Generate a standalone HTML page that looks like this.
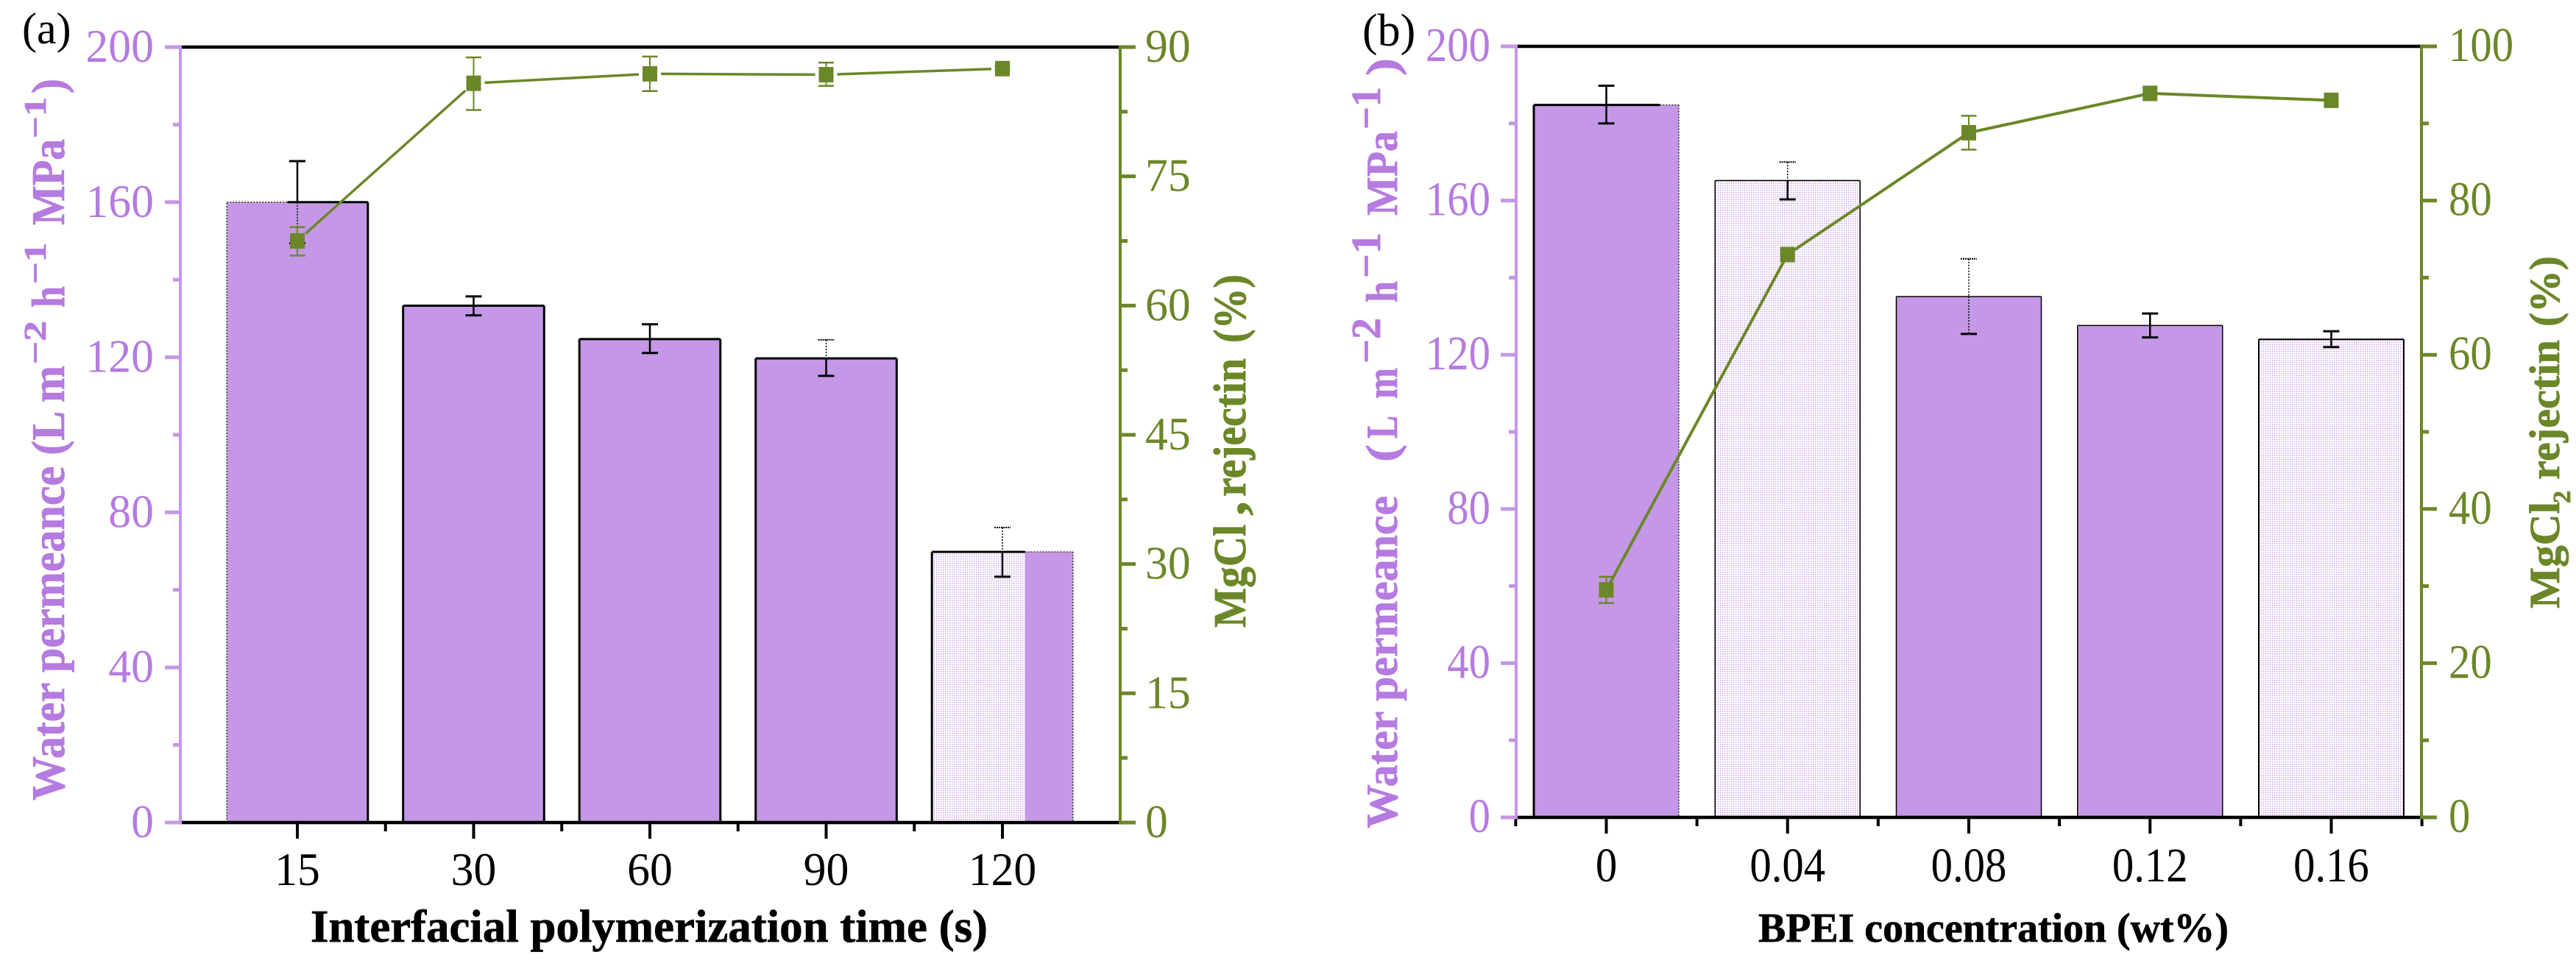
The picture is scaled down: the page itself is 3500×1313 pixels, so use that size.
<!DOCTYPE html>
<html lang="en">
<head>
<meta charset="utf-8">
<title>Water permeance and MgCl2 rejection charts</title>
<style>
html,body{margin:0;padding:0;background:#fff;}
svg{display:block;}
text{font-family:"Liberation Serif","Noto Serif CJK SC",serif;}
</style>
</head>
<body>
<svg id="figure" xmlns="http://www.w3.org/2000/svg" width="3500" height="1313" viewBox="0 0 3500 1313">
  <defs>
    <pattern id="dots" patternUnits="userSpaceOnUse" width="3" height="3">
      <rect x="0" y="0" width="3" height="3" fill="#fff"/>
      <rect x="0" y="0" width="1.4" height="1.4" fill="#c498e6"/>
    </pattern>
  </defs>
  <rect x="0" y="0" width="3500" height="1313" fill="#fff"/>
  <g id="panelA"></g>
  <g id="panelB"></g>

  <text x="30" y="59" font-size="60" fill="#000">(a)</text>
  <text x="1851" y="62" font-size="62" fill="#000">(b)</text>

  <text x="422" y="1280" font-size="62" font-weight="bold" fill="#000" stroke="#000" stroke-width="0.7" textLength="920" lengthAdjust="spacingAndGlyphs">Interfacial polymerization time (s)</text>
  <text x="2389" y="1280" font-size="56" font-weight="bold" fill="#000" stroke="#000" stroke-width="0.7" textLength="639" lengthAdjust="spacingAndGlyphs">BPEI concentration (wt%)</text>

  <g font-weight="bold" fill="#b57be0" stroke="#b57be0" stroke-width="0.8">
    <text transform="translate(87,1088) rotate(-90)" font-size="64" textLength="591" lengthAdjust="spacingAndGlyphs">Water permeance (L m</text>
    <text transform="translate(62,495) rotate(-90)" font-size="42" textLength="59" lengthAdjust="spacingAndGlyphs">−2</text>
    <text transform="translate(87,418) rotate(-90)" font-size="64" textLength="29" lengthAdjust="spacingAndGlyphs">h</text>
    <text transform="translate(62,386) rotate(-90)" font-size="42" textLength="56" lengthAdjust="spacingAndGlyphs">−1</text>
    <text transform="translate(87,306) rotate(-90)" font-size="64" textLength="117" lengthAdjust="spacingAndGlyphs">MPa</text>
    <text transform="translate(62,188) rotate(-90)" font-size="42" textLength="56" lengthAdjust="spacingAndGlyphs">−1</text>
    <text transform="translate(87,127) rotate(-90)" font-size="64" textLength="20" lengthAdjust="spacingAndGlyphs">)</text>
  </g>

  <g font-weight="bold" fill="#b57be0" stroke="#b57be0" stroke-width="0.8">
    <text transform="translate(1898,1126) rotate(-90)" font-size="60" textLength="452" lengthAdjust="spacingAndGlyphs">Water permeance</text>
    <text transform="translate(1898,628) rotate(-90)" font-size="60" textLength="24" lengthAdjust="spacingAndGlyphs">(</text>
    <text transform="translate(1898,596) rotate(-90)" font-size="60" textLength="31" lengthAdjust="spacingAndGlyphs">L</text>
    <text transform="translate(1898,542) rotate(-90)" font-size="60" textLength="42" lengthAdjust="spacingAndGlyphs">m</text>
    <text transform="translate(1875,494) rotate(-90)" font-size="56" textLength="62" lengthAdjust="spacingAndGlyphs">−2</text>
    <text transform="translate(1898,411) rotate(-90)" font-size="60" textLength="29" lengthAdjust="spacingAndGlyphs">h</text>
    <text transform="translate(1875,378) rotate(-90)" font-size="56" textLength="62" lengthAdjust="spacingAndGlyphs">−1</text>
    <text transform="translate(1898,293) rotate(-90)" font-size="60" textLength="115" lengthAdjust="spacingAndGlyphs">MPa</text>
    <text transform="translate(1875,176) rotate(-90)" font-size="56" textLength="58" lengthAdjust="spacingAndGlyphs">−1</text>
    <text transform="translate(1898,103) rotate(-90)" font-size="60" textLength="24" lengthAdjust="spacingAndGlyphs">)</text>
  </g>

  <g font-weight="bold" fill="#6b8728" stroke="#6b8728" stroke-width="0.8">
    <text transform="translate(1692,853) rotate(-90)" font-size="62" textLength="140" lengthAdjust="spacingAndGlyphs">MgCl</text>
    <text transform="translate(1692,701) rotate(-90)" font-size="70" textLength="20" lengthAdjust="spacingAndGlyphs">,</text>
    <text transform="translate(1692,675) rotate(-90)" font-size="62" textLength="188" lengthAdjust="spacingAndGlyphs">rejectin</text>
    <text transform="translate(1692,466) rotate(-90)" font-size="62" textLength="93" lengthAdjust="spacingAndGlyphs">(%)</text>
  </g>

  <g font-weight="bold" fill="#6b8728" stroke="#6b8728" stroke-width="0.8">
    <text transform="translate(3477,827) rotate(-90)" font-size="58" textLength="145" lengthAdjust="spacingAndGlyphs">MgCl</text>
    <text transform="translate(3492,684) rotate(-90)" font-size="34" textLength="17" lengthAdjust="spacingAndGlyphs">2</text>
    <text transform="translate(3477,652) rotate(-90)" font-size="58" textLength="190" lengthAdjust="spacingAndGlyphs">rejectin</text>
    <text transform="translate(3477,444) rotate(-90)" font-size="58" textLength="96" lengthAdjust="spacingAndGlyphs">(%)</text>
  </g>
</svg>
<script>
// ---- Panel (a) data ----
var categoriesA = ["15", "30", "60", "90", "120"];
var permeanceA = [160, 133.3, 124.7, 119.7, 69.8];
var permeanceHighA = [170.6, 135.7, 128.5, 124.5, 76.1];
var permeanceLowA = [149.4, 130.8, 121.1, 115.2, 63.4];
var rejectionA = [67.5, 85.8, 86.9, 86.8, 87.5];
var rejectionHighA = [69.1, 88.8, 88.9, 88.2, 87.7];
var rejectionLowA = [65.8, 82.7, 84.9, 85.5, 87.3];
var leftTicksA = ["0", "40", "80", "120", "160", "200"];
var rightTicksA = ["0", "15", "30", "45", "60", "75", "90"];

// ---- Panel (b) data ----
var categoriesB = ["0", "0.04", "0.08", "0.12", "0.16"];
var permeanceB = [184.8, 165.2, 135.1, 127.6, 124];
var permeanceHighB = [189.8, 170, 144.9, 130.7, 126.1];
var permeanceLowB = [180, 160.3, 125.4, 124.5, 122];
var rejectionB = [29.5, 73, 88.8, 93.9, 93];
var rejectionHighB = [31.2, 73, 91, 93.9, 93];
var rejectionLowB = [27.8, 73, 86.6, 93.9, 93];
var leftTicksB = ["0", "40", "80", "120", "160", "200"];
var rightTicksB = ["0", "20", "40", "60", "80", "100"];

var SVGNS = "http://www.w3.org/2000/svg";
var PURPLE = "#c498e6", PURPLE_TEXT = "#b57be0", GREEN = "#6b8728", BLACK = "#000";

function mk(parent, tag, attrs, content) {
  var el = document.createElementNS(SVGNS, tag);
  for (var k in attrs) { el.setAttribute(k, attrs[k]); }
  if (content !== undefined) { el.textContent = content; }
  parent.appendChild(el);
  return el;
}

function drawPanel(p) {
  var root = document.getElementById(p.id);
  var n = p.categories.length;
  var step = (p.c1 - p.c0) / (n - 1);
  var barW = step * 0.8;
  var xc = function (i) { return p.c0 + i * step; };
  var yL = function (v) { return p.bottom - (v / p.leftMax) * (p.bottom - p.top); };
  var yR = function (v) { return p.bottom - (v / p.rightMax) * (p.bottom - p.top); };
  var el;

  // Bars
  for (var i = 0; i < n; i++) {
    var x0 = xc(i) - barW / 2, x1 = xc(i) + barW / 2, yt = yL(p.permeance[i]), yb = p.bottom;
    var g = mk(root, "g", {});
    
    
    var kind = p.barKinds[i];
    var split = x0 + barW * p.splitFraction[i];
    if (kind === "pattern") {
      mk(g, "rect", {x: x0, y: yt, width: barW, height: yb - yt, fill: "url(#dots)"});
    } else if (kind === "split") {
      mk(g, "rect", {x: x0, y: yt, width: split - x0, height: yb - yt, fill: "url(#dots)"});
      mk(g, "rect", {x: split, y: yt, width: x1 - split, height: yb - yt, fill: PURPLE});
    } else {
      mk(g, "rect", {x: x0, y: yt, width: barW, height: yb - yt, fill: PURPLE});
    }
    var sw = p.barStroke[i];
    var solid = {stroke: BLACK, "stroke-width": sw, fill: "none"};
    var dotted = {stroke: "#333", "stroke-width": 1.5, "stroke-dasharray": "2 2", fill: "none"};
    var seg = function (a, b, c, d, st) {
      var o = {x1: a, y1: b, x2: c, y2: d};
      for (var q in st) { o[q] = st[q]; }
      mk(g, "line", o);
    };
    if (kind === "full" || kind === "pattern") {
      seg(x0, yb, x0, yt, solid); seg(x0, yt, x1, yt, solid); seg(x1, yt, x1, yb, solid);
    } else if (kind === "openLeft") {
      seg(x0, yb, x0, yt, dotted); seg(x0, yt, split, yt, dotted);
      seg(split, yt, x1, yt, solid); seg(x1, yt, x1, yb, solid);
    } else if (kind === "openRight") {
      seg(x0, yb, x0, yt, solid); seg(x0, yt, split, yt, solid);
      seg(split, yt, x1, yt, dotted); seg(x1, yt, x1, yb, dotted);
    } else if (kind === "split") {
      seg(x0, yb, x0, yt, solid); seg(x0, yt, split, yt, solid);
      seg(split, yt, x1, yt, dotted); seg(x1, yt, x1, yb, dotted);
    }
  }

  // Bar error bars
  for (i = 0; i < n; i++) {
    var gE = mk(root, "g", {stroke: BLACK, fill: "none"});
    
    
    var cx = xc(i), yH = yL(p.permeanceHigh[i]), yM = yL(p.permeance[i]), yLo = yL(p.permeanceLow[i]);
    var upD = p.errUpperDotted[i], loD = p.errLowerDotted[i];
    mk(gE, "line", {x1: cx, y1: yH, x2: cx, y2: yM, "stroke-width": upD ? 1.5 : 2.5, "stroke-dasharray": upD ? "2 2" : "none"});
    mk(gE, "line", {x1: cx, y1: yM, x2: cx, y2: yLo, "stroke-width": loD ? 1.5 : 2.5, "stroke-dasharray": loD ? "2 2" : "none"});
    mk(gE, "line", {x1: cx - 11, y1: yH, x2: cx + 11, y2: yH, "stroke-width": upD ? 2 : 3, "stroke-dasharray": upD ? "2 1" : "none"});
    mk(gE, "line", {x1: cx - 11, y1: yLo, x2: cx + 11, y2: yLo, "stroke-width": 3});
  }

  // Frame lines
  el = mk(root, "line", {x1: p.left, y1: p.top, x2: p.right, y2: p.top, stroke: BLACK, "stroke-width": p.frameW});
  
  
  el = mk(root, "line", {x1: p.left, y1: p.bottom, x2: p.right, y2: p.bottom, stroke: BLACK, "stroke-width": p.frameW});
  
  

  // X ticks and labels
  for (i = 0; i < n; i++) {
    el = mk(root, "line", {x1: xc(i), y1: p.bottom, x2: xc(i), y2: p.bottom + 22, stroke: BLACK, "stroke-width": 4});
    
    
    el = mk(root, "text", {transform: "translate(" + xc(i) + "," + p.xBase + ") scale(" + p.digitScale + ",1)", "text-anchor": "middle", "font-size": p.tickFont, fill: BLACK}, p.categories[i]);
    
    
  }
  var mFrom = p.edgeMinor ? -1 : 0, mTo = p.edgeMinor ? n : n - 1;
  for (i = mFrom; i < mTo; i++) {
    var mx = xc(i) + step / 2;
    el = mk(root, "line", {x1: mx, y1: p.bottom, x2: mx, y2: p.bottom + 12, stroke: BLACK, "stroke-width": 4});
    
    
  }

  // Left axis
  el = mk(root, "line", {x1: p.left, y1: p.top - 2, x2: p.left, y2: p.bottom + 2, stroke: PURPLE, "stroke-width": 4});
  
  
  for (i = 0; i < p.leftTicks.length; i++) {
    var v = parseFloat(p.leftTicks[i]);
    el = mk(root, "line", {x1: p.left - 21, y1: yL(v), x2: p.left, y2: yL(v), stroke: PURPLE, "stroke-width": 5});
    
    
    el = mk(root, "text", {transform: "translate(" + p.leftLabelX + "," + (yL(v) + 20) + ") scale(" + p.digitScale + ",1)", "text-anchor": "end", "font-size": p.tickFont, fill: PURPLE_TEXT}, p.leftTicks[i]);
    
    
    if (i < p.leftTicks.length - 1) {
      var vm = (v + parseFloat(p.leftTicks[i + 1])) / 2;
      el = mk(root, "line", {x1: p.left - 10, y1: yL(vm), x2: p.left, y2: yL(vm), stroke: PURPLE, "stroke-width": 5});
      
      
    }
  }

  // Right axis
  el = mk(root, "line", {x1: p.right, y1: p.top - 2, x2: p.right, y2: p.bottom + 2, stroke: GREEN, "stroke-width": 4});
  
  
  for (i = 0; i < p.rightTicks.length; i++) {
    var r = parseFloat(p.rightTicks[i]);
    el = mk(root, "line", {x1: p.right, y1: yR(r), x2: p.right + 21, y2: yR(r), stroke: GREEN, "stroke-width": 5});
    
    
    el = mk(root, "text", {transform: "translate(" + p.rightLabelX + "," + (yR(r) + 20) + ") scale(" + p.digitScale + ",1)", "text-anchor": "start", "font-size": p.tickFont, fill: GREEN}, p.rightTicks[i]);
    
    
    if (i < p.rightTicks.length - 1) {
      var rm = (r + parseFloat(p.rightTicks[i + 1])) / 2;
      el = mk(root, "line", {x1: p.right, y1: yR(rm), x2: p.right + 10, y2: yR(rm), stroke: GREEN, "stroke-width": 5});
      
      
    }
  }

  // Rejection line segments (shortened by the symbol gap)
  for (i = 0; i < n - 1; i++) {
    var ax = xc(i), ay = yR(p.rejection[i]), bx = xc(i + 1), by = yR(p.rejection[i + 1]);
    var len = Math.sqrt((bx - ax) * (bx - ax) + (by - ay) * (by - ay));
    var ux = (bx - ax) / len, uy = (by - ay) / len;
    el = mk(root, "line", {x1: ax + ux * p.lineGap, y1: ay + uy * p.lineGap, x2: bx - ux * p.lineGap, y2: by - uy * p.lineGap, stroke: GREEN, "stroke-width": p.lineW});
    
    
  }

  // Rejection error bars and markers
  for (i = 0; i < n; i++) {
    var hi = yR(p.rejectionHigh[i]), lo = yR(p.rejectionLow[i]), my = yR(p.rejection[i]), mxx = xc(i);
    if (hi !== lo) {
      var gR = mk(root, "g", {stroke: GREEN, fill: "none"});
      
      
      mk(gR, "line", {x1: mxx, y1: hi, x2: mxx, y2: lo, "stroke-width": 2});
      mk(gR, "line", {x1: mxx - 10.5, y1: hi, x2: mxx + 10.5, y2: hi, "stroke-width": 2.5});
      mk(gR, "line", {x1: mxx - 10.5, y1: lo, x2: mxx + 10.5, y2: lo, "stroke-width": 2.5});
    }
    el = mk(root, "rect", {x: mxx - 10, y: my - 10.5, width: 20, height: 21, fill: GREEN});
    
    
  }
}

drawPanel({
  id: "panelA", categories: categoriesA, permeance: permeanceA, permeanceHigh: permeanceHighA, permeanceLow: permeanceLowA,
  rejection: rejectionA, rejectionHigh: rejectionHighA, rejectionLow: rejectionLowA,
  leftTicks: leftTicksA, rightTicks: rightTicksA, leftMax: 200, rightMax: 90,
  left: 245, right: 1522, top: 64, bottom: 1118, c0: 404, c1: 1362,
  barKinds: ["openLeft", "full", "full", "full", "split"],
  splitFraction: [0.43, 0, 0, 0, 0.66],
  barStroke: [3, 3, 3, 3, 3],
  errUpperDotted: [false, false, false, true, true],
  errLowerDotted: [true, false, false, false, false],
  frameW: 4.5, lineW: 3.5, lineGap: 15, edgeMinor: false,
  tickFont: 63, digitScale: 0.98, xBase: 1203, leftLabelX: 209, rightLabelX: 1556
});

drawPanel({
  id: "panelB", categories: categoriesB, permeance: permeanceB, permeanceHigh: permeanceHighB, permeanceLow: permeanceLowB,
  rejection: rejectionB, rejectionHigh: rejectionHighB, rejectionLow: rejectionLowB,
  leftTicks: leftTicksB, rightTicks: rightTicksB, leftMax: 200, rightMax: 100,
  left: 2060, right: 3290, top: 63, bottom: 1111, c0: 2182.5, c1: 3167.5,
  barKinds: ["openRight", "pattern", "full", "full", "pattern"],
  splitFraction: [0.87, 0, 0, 0, 0],
  barStroke: [3, 1.5, 1.5, 1.5, 2],
  errUpperDotted: [false, true, true, false, false],
  errLowerDotted: [false, false, true, false, false],
  frameW: 4.5, lineW: 4, lineGap: 0, edgeMinor: true,
  tickFont: 66, digitScale: 0.89, xBase: 1198, leftLabelX: 2025, rightLabelX: 3327
});
</script>
</body>
</html>
